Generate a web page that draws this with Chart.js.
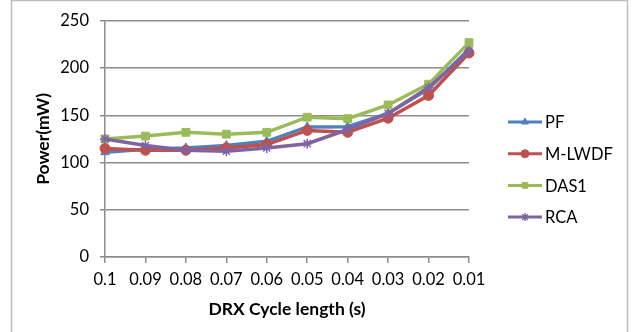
<!DOCTYPE html>
<html>
<head>
<meta charset="utf-8">
<script src="https://cdn.jsdelivr.net/npm/chart.js@4.4.1/dist/chart.umd.min.js"></script>
<style>
  html, body { margin: 0; padding: 0; background: #fff; }
  #wrap { position: relative; width: 639px; height: 332px; }
</style>
</head>
<body>
<div id="wrap"><canvas id="chart" width="639" height="332"></canvas></div>
<script>
// categories and values
const cycleLabels = ['0.1', '0.09', '0.08', '0.07', '0.06', '0.05', '0.04', '0.03', '0.02', '0.01'];
const pfValues    = [111, 114, 115.5, 118, 122.5, 137.7, 138, 152, 178, 220];
const mlwdfValues = [115, 113, 113, 115.5, 119, 134, 132, 147, 171, 216];
const das1Values  = [125, 128, 132, 130, 132, 148, 146.5, 161, 183, 227];
const rcaValues   = [125, 118, 113, 112, 115.5, 120, 135, 152, 179.5, 218];

const FONT = 'Lato, "Open Sans", sans-serif';
const AXIS_GREY = '#8c8c8c';

function series(label, data, color, style, radius, order) {
  return {
    label, data, order,
    borderColor: color,
    backgroundColor: color,
    pointBackgroundColor: color,
    pointBorderColor: color,
    borderWidth: 3.5,
    pointStyle: style,
    pointRadius: radius,
    pointBorderWidth: style === 'star' ? 1.5 : 1,
    tension: 0
  };
}

const datasets = [
  series('PF', pfValues, '#4F81BD', 'triangle', 5, 4),
  series('M-LWDF', mlwdfValues, '#C0504D', 'circle', 5, 3),
  series('DAS1', das1Values, '#9BBB59', 'rect', 5.5, 2),
  series('RCA', rcaValues, '#8064A2', 'star', 5, 1)
];

// outer frame and hand-placed legend
const framePlugin = {
  id: 'frame',
  afterDraw(chart) {
    const ctx = chart.ctx;
    ctx.save();
    ctx.strokeStyle = '#bdbdbd';
    ctx.lineWidth = 1.5;
    ctx.strokeRect(11.5, 0.5, 616, 345);

    const top = 122, gap = 31.7;
    chart.data.datasets.forEach((ds, i) => {
      const y = top + i * gap;
      ctx.strokeStyle = ds.borderColor;
      ctx.lineWidth = 3;
      ctx.beginPath();
      ctx.moveTo(508, y);
      ctx.lineTo(542, y);
      ctx.stroke();
      ctx.fillStyle = ds.borderColor;
      ctx.strokeStyle = ds.borderColor;
      ctx.lineWidth = ds.pointBorderWidth;
      Chart.helpers.drawPoint(ctx, {
        pointStyle: ds.pointStyle,
        radius: 4,
        borderWidth: ds.pointBorderWidth,
        rotation: 0
      }, 525, y);
      ctx.fillStyle = '#000';
      ctx.font = '16.5px ' + FONT;
      ctx.textAlign = 'left';
      ctx.textBaseline = 'middle';
      ctx.fillText(ds.label, 545, y + 1);
    });
    ctx.restore();
  }
};

new Chart(document.getElementById('chart'), {
  type: 'line',
  data: { labels: cycleLabels, datasets },
  plugins: [framePlugin],
  options: {
    responsive: false,
    animation: false,
    layout: { padding: { left: 33, right: 170, top: 20, bottom: 12 } },
    plugins: { legend: { display: false }, tooltip: { enabled: false } },
    scales: {
      x: {
        offset: false,
        afterFit(scale) { scale.height = 63; },
        grid: {
          drawOnChartArea: false,
          drawTicks: true,
          tickLength: 6,
          color: AXIS_GREY,
          lineWidth: 1.5
        },
        border: { color: AXIS_GREY, width: 1.5 },
        ticks: { color: '#000', font: { family: FONT, size: 16.5 }, padding: 7, maxRotation: 0, autoSkip: false },
        title: {
          display: true,
          text: 'DRX Cycle length (s)',
          color: '#000',
          font: { family: FONT, size: 17.5, weight: 'bold' },
          padding: { top: 5, bottom: 0 }
        }
      },
      y: {
        min: 0,
        max: 250,
        afterFit(scale) { scale.width = 72; },
        grid: {
          color: AXIS_GREY,
          lineWidth: 1.5,
          drawTicks: true,
          tickLength: 5
        },
        border: { color: AXIS_GREY, width: 1.5 },
        ticks: { stepSize: 50, color: '#000', font: { family: FONT, size: 16.5 }, padding: 11 },
        title: {
          display: true,
          text: 'Power(mW)',
          color: '#000',
          font: { family: FONT, size: 17.5, weight: 'bold' },
          padding: { top: 0, bottom: 6 }
        }
      }
    }
  }
});
</script>
</body>
</html>
